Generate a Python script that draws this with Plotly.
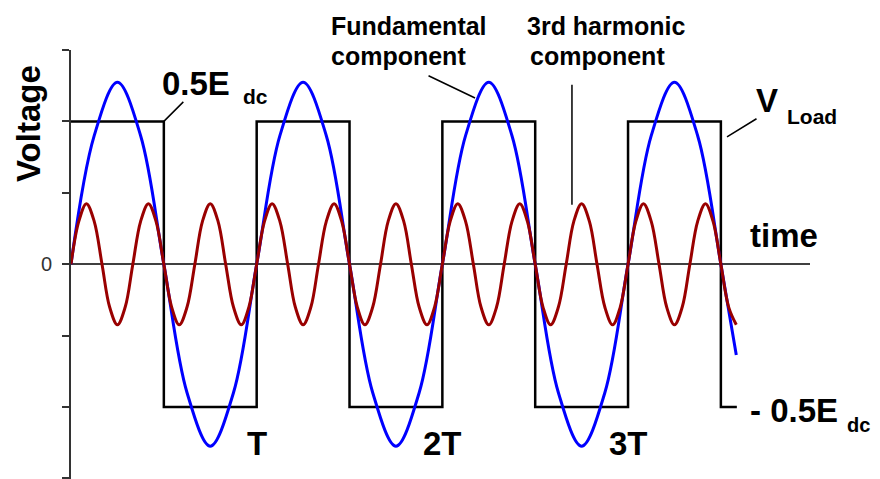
import plotly.graph_objects as go

# ---------------- data (time in periods T, voltage in units of E_dc) ----------------
SQ_T = [0, 0.5, 1.0, 1.5, 2.0, 2.5, 3.0, 3.5, 3.586]
SQ_V = [0.5, -0.5, 0.5, -0.5, 0.5, -0.5, 0.5, -0.5, -0.5]

FUND_T = [0, 0.125, 0.25, 0.375, 0.5, 0.625, 0.75, 0.875,
          1.0, 1.125, 1.25, 1.375, 1.5, 1.625, 1.75, 1.875,
          2.0, 2.125, 2.25, 2.375, 2.5, 2.625, 2.75, 2.875,
          3.0, 3.125, 3.25, 3.375, 3.5, 3.583]
FUND_V = [0, 0.45, 0.637, 0.45, 0, -0.45, -0.637, -0.45,
          0, 0.45, 0.637, 0.45, 0, -0.45, -0.637, -0.45,
          0, 0.45, 0.637, 0.45, 0, -0.45, -0.637, -0.45,
          0, 0.45, 0.637, 0.45, 0, -0.318]

HARM_T = [0, 0.042, 0.083, 0.125, 0.167, 0.208, 0.25, 0.292, 0.333, 0.375, 0.417, 0.458,
          0.5, 0.542, 0.583, 0.625, 0.667, 0.708, 0.75, 0.792, 0.833, 0.875, 0.917, 0.958,
          1.0, 1.042, 1.083, 1.125, 1.167, 1.208, 1.25, 1.292, 1.333, 1.375, 1.417, 1.458,
          1.5, 1.542, 1.583, 1.625, 1.667, 1.708, 1.75, 1.792, 1.833, 1.875, 1.917, 1.958,
          2.0, 2.042, 2.083, 2.125, 2.167, 2.208, 2.25, 2.292, 2.333, 2.375, 2.417, 2.458,
          2.5, 2.542, 2.583, 2.625, 2.667, 2.708, 2.75, 2.792, 2.833, 2.875, 2.917, 2.958,
          3.0, 3.042, 3.083, 3.125, 3.167, 3.208, 3.25, 3.292, 3.333, 3.375, 3.417, 3.458,
          3.5, 3.542, 3.583]
HARM_V = [0, 0.15, 0.212, 0.15, 0, -0.15, -0.212, -0.15,
          0, 0.15, 0.212, 0.15, 0, -0.15, -0.212, -0.15,
          0, 0.15, 0.212, 0.15, 0, -0.15, -0.212, -0.15,
          0, 0.15, 0.212, 0.15, 0, -0.15, -0.212, -0.15,
          0, 0.15, 0.212, 0.15, 0, -0.15, -0.212, -0.15,
          0, 0.15, 0.212, 0.15, 0, -0.15, -0.212, -0.15,
          0, 0.15, 0.212, 0.15, 0, -0.15, -0.212, -0.15,
          0, 0.15, 0.212, 0.15, 0, -0.15, -0.212, -0.15,
          0, 0.15, 0.212, 0.15, 0, -0.15, -0.212, -0.15,
          0, 0.15, 0.212, 0.15, 0, -0.15, -0.212, -0.15,
          0, 0.15, 0.212, 0.15, 0, -0.15, -0.212]

Y_TICKS = [-0.75, -0.5, -0.25, 0, 0.25, 0.5, 0.75]
Y_TICK_TEXT = ["", "", "", "0", "", "", ""]

PERIOD_LABELS = ["T", "2T", "3T"]
PERIOD_POS = [1, 2, 3]

# ---------------- layout geometry ----------------
OFF = 8                      # page body margin of the browser
W, H = 880 - OFF, 479 - OFF
ML, MR, MT, MB = 71 - OFF, 70, 50 - OFF, 0
X_RANGE = [0, 3.98]
Y_RANGE = [-0.752, 0.75]
FONT = "Arial, Liberation Sans, sans-serif"


def px(x):
    """screen x of the reference -> paper x"""
    return (x - OFF - ML) / (W - ML - MR)


def py(y):
    """screen y of the reference -> paper y"""
    return (H - MB - (y - OFF)) / (H - MT - MB)


fig = go.Figure()
fig.add_trace(go.Scatter(x=SQ_T, y=SQ_V, mode="lines", line_shape="hv",
                         line=dict(color="black", width=2.5), hoverinfo="skip"))
fig.add_trace(go.Scatter(x=FUND_T, y=FUND_V, mode="lines", line_shape="spline",
                         line=dict(color="#0000ff", width=3), hoverinfo="skip"))
fig.add_trace(go.Scatter(x=HARM_T, y=HARM_V, mode="lines", line_shape="spline",
                         line=dict(color="#990000", width=3), hoverinfo="skip"))

ann = []


def text(s, x, y, size, xanchor="left", xref="paper", yref="paper", angle=0):
    ann.append(dict(text="<b>%s</b>" % s, x=x, y=y, xref=xref, yref=yref,
                    xanchor=xanchor, yanchor="middle", showarrow=False, textangle=angle,
                    font=dict(family=FONT, size=size, color="black")))


def leader(x, y, ax, ay):
    ann.append(dict(text=" ", x=x, y=y, xref="x", yref="y", ax=ax, ay=ay,
                    showarrow=True, arrowhead=0, arrowwidth=1.5, arrowcolor="black",
                    standoff=0, startstandoff=0, font=dict(size=1)))


text("Voltage", px(28), py(124), 33, xanchor="center", angle=-90)
text("0.5E", px(160), py(83.5), 33)
text("dc", px(241), py(96), 21)
text("Fundamental", px(329), py(26), 25)
text("component", px(329), py(56), 25)
text("3rd harmonic", px(525), py(26), 25)
text("component", px(528), py(56), 25)
text("V", px(754), py(100.5), 33)
text("Load", px(785), py(116), 21)
text("time", px(748), py(235.5), 33)
text("- 0.5E", px(748), py(410.5), 33)
text("dc", px(845), py(425), 20)
for lab, pos in zip(PERIOD_LABELS, PERIOD_POS):
    text(lab, pos, py(443), 33, xanchor="center", xref="x")

leader(0.5, 0.5, 21, -21)
leader(2.176, 0.582, -48, -23)
leader(2.698, 0.208, 0, -122)
leader(3.533, 0.446, 31, -19)

fig.update_layout(
    width=W, height=H, margin=dict(l=ML, r=MR, t=MT, b=MB, pad=0),
    paper_bgcolor="white", plot_bgcolor="white", showlegend=False,
    annotations=ann,
    xaxis=dict(range=X_RANGE, visible=False, showgrid=False, zeroline=False),
    yaxis=dict(range=Y_RANGE, showgrid=False, zeroline=True, zerolinecolor="#404040",
               zerolinewidth=1.5, showline=True, linecolor="#333333", linewidth=2,
               ticks="outside", ticklen=7, tickwidth=1.5, tickcolor="#333333",
               tickvals=Y_TICKS, ticktext=Y_TICK_TEXT, ticklabelstandoff=6,
               tickfont=dict(family=FONT, size=20, color="#333333")),
)

fig.write_html("out.html")
